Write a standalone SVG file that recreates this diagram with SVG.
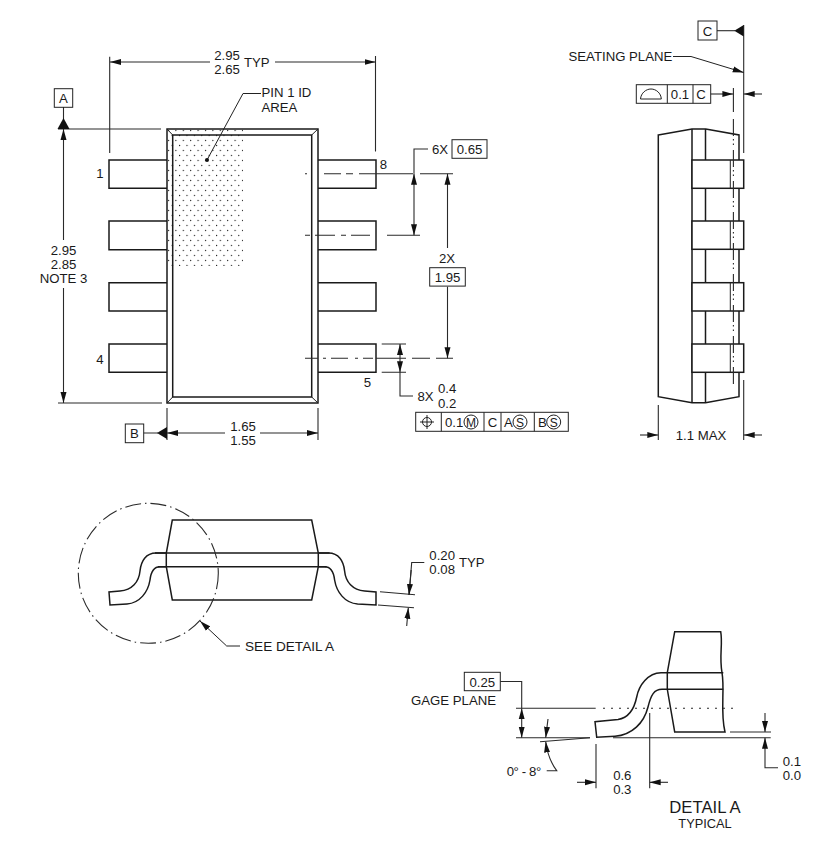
<svg xmlns="http://www.w3.org/2000/svg" width="817" height="850" viewBox="0 0 817 850">
<style>
text{font-family:"Liberation Sans",Arial,sans-serif;font-size:13.2px;fill:#1a1a1a}
.m{text-anchor:middle}
.o{fill:none;stroke:#1a1a1a;stroke-width:1.5;stroke-linejoin:miter}
.b{fill:#fff;stroke:#1a1a1a;stroke-width:1.5}
.f{fill:none;stroke:#222;stroke-width:1}
.d{fill:none;stroke:#2a2a2a;stroke-width:1.1}
.a{marker-end:url(#arr)}
.s{marker-start:url(#arr)}
.cl{fill:none;stroke:#2a2a2a;stroke-width:1.1}
.t{fill:#111;stroke:none}
</style>
<defs>
<marker id="arr" viewBox="0 0 11 7" refX="11" refY="3.5" markerWidth="11" markerHeight="7" markerUnits="userSpaceOnUse" orient="auto-start-reverse">
<path d="M0 0.5L11 3.5L0 6.5Z" fill="#111"/>
</marker>
<pattern id="dots" x="167" y="129" width="7.4" height="10" patternUnits="userSpaceOnUse">
<circle cx="1.5" cy="1.5" r="0.65" fill="#222"/>
<circle cx="5.2" cy="6.5" r="0.65" fill="#222"/>
</pattern>
</defs>

<g id="top-view">
<rect x="167" y="129" width="76" height="137" fill="url(#dots)"/>
<g id="pins-left">
<path class="o" d="M167 160H109V188.3H167M167 221H109V249.7H167M167 282.7H109V311H167M167 344H109V372.3H167"/>
</g>
<g id="pins-right">
<path class="o" d="M318 160H376V188.3H318M318 221H376V249.7H318M318 282.7H376V311H318M318 344H376V372.3H318"/>
</g>
<g id="body">
<rect class="o" x="167" y="129" width="151" height="274"/>
<rect class="o" x="172.7" y="135" width="139" height="262"/>
<path class="f" d="M167 129L172.7 135M318 129L311.7 135M167 403L172.7 397M318 403L311.7 397"/>
</g>
<text class="m" x="100" y="178">1</text>
<text class="m" x="100" y="364">4</text>
<text class="m" x="383.5" y="169">8</text>
<text class="m" x="367.5" y="386.5">5</text>
</g>

<g id="side-view">
<path class="o" d="M658.3 135L692 129H705.7L739 135V396.7L705.5 402.7H692L658.3 396.7Z"/>
<path class="o" d="M692 129V403M705.5 129V403"/>
<g id="side-pins">
<rect class="b" x="692" y="160" width="51.7" height="28.3"/>
<rect class="b" x="692" y="221" width="51.7" height="28.3"/>
<rect class="b" x="692" y="282.7" width="51.7" height="28.3"/>
<rect class="b" x="692" y="344" width="51.7" height="28.3"/>
<path class="f" d="M730.3 160V188.3M730.3 221V249.3M730.3 282.7V311M730.3 344V372.3"/>
</g>
</g>

<g id="lead-view">
<path class="o" d="M172.3 520H311.7L318.3 553V566.7L311.7 600H172.3L166.3 566.7V553Z"/>
<path class="o" d="M155 553H329.6M158 566.7H326.6"/>
<path class="o" d="M166 553H156C146 553 141 561 140 571C139 582 132 590 120 591L109 592L110 605L127 604C140 603 148 592 150 580C151 571 154 566.7 160 566.7H166"/>
<path class="o" d="M318.6 553H328.6C338.6 553 343.6 561 344.6 571C345.6 582 352.6 590 364.6 591L376 592V605L357.6 604C344.6 603 336.6 592 334.6 580C333.6 571 330.6 566.7 324.6 566.7H318.6"/>
</g>

<g id="detail-a">
<path class="o" d="M667.3 672.7L674.7 631.7H720.7C723 645 719 655 722 672.7C725 690 720 712 725 732H674.7L667.3 689.3Z"/>
<path class="o" d="M667.3 672.7H723.3M667.3 689.3H723.3"/>
<path class="o" d="M667.3 672.7H661C648 673 639 685 636.7 697C634 710 628 718 618 719.5L595 721.7L596.7 737.3L615 736.3C632 735 644 723 648 707C651 695 654 689.3 662 689.3H667.3"/>
</g>

<g id="connectors">
<!-- top width -->
<path class="d" d="M109.7 56.7V153M375.5 56V151.5"/>
<path class="d s" d="M110 62H210"/>
<path class="d a" d="M275 62H375.5"/>
<!-- pin id -->
<path class="f" d="M261 93.5H243L207 160"/>
<circle class="t" cx="207" cy="160" r="2"/>
<!-- datum A -->
<path class="d" d="M63.5 107V120M58 129H161M58 403H162"/>
<path class="t" d="M63.5 118L69.5 129H57.5Z"/>
<path class="d s" d="M63.5 129V240"/>
<path class="d a" d="M63.5 288V403"/>
<!-- datum B -->
<path class="d" d="M143.7 433H158M167 408V440M318 408V440"/>
<path class="t" d="M157 433L167 427V439Z"/>
<path class="d s" d="M167 433H225"/>
<path class="d a" d="M260 433H318"/>
<!-- centerlines -->
<path class="cl" d="M305 173.7H307M324 173.7H341M346 173.7H353M359 173.7H413M420 173.7H453"/>
<path class="cl" d="M305 235.3H310M315 235.3H335M341 235.3H346M351 235.3H370M387 235.3H420"/>
<path class="cl" d="M305 358.3H318M323 358.3H326M331 358.3H348M355 358.3H358M363 358.3H373M376 358.3H406M412 358.3H430M436 358.3H453"/>
<!-- 6X -->
<path class="d" d="M428 149H414V173.7"/>
<path class="d s" d="M414 173.7V205"/>
<path class="d a" d="M414 205V235.3"/>
<!-- 2X -->
<path class="d s" d="M447.5 173.7V248"/>
<path class="d a" d="M447.5 286.7V358.3"/>
<!-- 8X -->
<path class="d" d="M381.7 344H406M381.7 372.3H406M400 372.3V396H413"/>
<path class="d s" d="M400 344V358"/>
<path class="d a" d="M400 358V372.3"/>
<!-- seating -->
<path class="d" d="M743.7 25V153M743.7 380V440M658.3 405V440"/>
<path class="d" d="M717 30.7H735"/>
<path class="t" d="M734.3 30.7L743.7 25V36.4Z"/>
<path class="f a" d="M673 56.5H691L743.7 72.5"/>
<path class="cl" d="M733.4 88V112"/>
<path class="cl" d="M733.4 119V384" stroke-dasharray="17 3 1.5 3 1.5 5"/>
<path class="d a" d="M710.7 94H733.4"/>
<path class="d a" d="M762 94H743.7"/>
<path class="d a" d="M640 435H658.3"/>
<path class="d a" d="M762 435H743.7"/>
<!-- lead view -->
<circle class="cl" cx="148.3" cy="573.3" r="70" stroke-dasharray="16 4 1.5 4"/>
<path class="f a" d="M240 646H226.7L200 621"/>
<path class="d" d="M424.3 562.5H411.7L409 595"/>
<path class="d" d="M380 591.7L415 594.7M378 605L414 607.7"/>
<path class="d a" d="M411.2 570L409 595"/>
<path class="d a" d="M406.7 626L408.3 607.7"/>
<!-- detail a -->
<path class="d" d="M500.3 681.5H521.7V708.3"/>
<path class="d s" d="M521.7 708.3V723"/>
<path class="d a" d="M521.7 723V737.7"/>
<path class="d" d="M516 708.3H595.7M516 737.7H590M613 737.7H770.7M730 732H771"/>
<path class="cl" d="M603 708.3H735" stroke-dasharray="2 6"/>
<path class="d" d="M540 741.7L590 737.7"/>
<path class="d a" d="M548 719L545.7 737.7"/>
<path class="d s" d="M545.7 741.5C547 752 551 763 556.7 770.7H546.7"/>
<path class="d a" d="M765 713V732"/>
<path class="d s" d="M765 737.7V767.7H778"/>
<path class="d" d="M596 744V788.3M649.7 713V788.3"/>
<path class="d a" d="M577 782.3H596"/>
<path class="d a" d="M668 782.3H649.7"/>
</g>

<g id="datum-a"><rect class="f" x="54.3" y="88.7" width="18.4" height="18.6"/><text class="m" x="63.5" y="103">A</text></g>
<g id="datum-b"><rect class="f" x="125.3" y="424" width="18.4" height="18.7"/><text class="m" x="134.5" y="438">B</text></g>
<g id="datum-c"><rect class="f" x="698" y="21" width="19" height="19"/><text class="m" x="707.5" y="35.5">C</text></g>

<g id="labels">
<text class="m" x="227" y="60">2.95</text>
<text class="m" x="227" y="74">2.65</text>
<text x="244" y="67">TYP</text>
<text x="261.5" y="97">PIN 1 ID</text>
<text x="261.5" y="111.5">AREA</text>
<text class="m" x="63.5" y="255">2.95</text>
<text class="m" x="63.5" y="269">2.85</text>
<text class="m" x="63.5" y="283">NOTE 3</text>
<text class="m" x="243" y="431">1.65</text>
<text class="m" x="243" y="445">1.55</text>
<text x="432" y="154">6X</text>
<text class="m" x="447" y="262.5">2X</text>
<text x="417.5" y="400.5">8X</text>
<text x="438" y="393">0.4</text>
<text x="438" y="407.5">0.2</text>
<text x="568.5" y="60.7">SEATING PLANE</text>
<text class="m" x="701" y="440">1.1 MAX</text>
<text x="429.3" y="560">0.20</text>
<text x="429.3" y="574.3">0.08</text>
<text x="459" y="566.5">TYP</text>
<text x="245" y="650.7" style="font-size:13.6px">SEE DETAIL A</text>
<text x="411" y="704.5">GAGE PLANE</text>
<text x="506.7" y="775.5" style="letter-spacing:-0.4px">0° - 8°</text>
<text x="782.7" y="765.5">0.1</text>
<text x="782.7" y="780">0.0</text>
<text class="m" x="622.3" y="780">0.6</text>
<text class="m" x="622.3" y="794">0.3</text>
<text class="m" x="705" y="813.3" style="font-size:16.7px">DETAIL A</text>
<text class="m" x="705" y="828" style="font-size:12.8px">TYPICAL</text>
</g>

<g id="box-065"><rect class="f" x="452" y="139.7" width="35" height="18.6"/><text class="m" x="469.5" y="154">0.65</text></g>
<g id="box-195"><rect class="f" x="429.7" y="267.7" width="35.6" height="18.4"/><text class="m" x="447.5" y="282">1.95</text></g>
<g id="box-025"><rect class="f" x="464.3" y="672.3" width="36" height="18.4"/><text class="m" x="482.3" y="686.5">0.25</text></g>

<g id="fcf-profile">
<rect class="f" x="636.3" y="84.7" width="74.4" height="18.6"/>
<path class="f" d="M667.3 84.7V103.3M693 84.7V103.3"/>
<path class="f" d="M640.5 99H661.3C661 93 656 89 651 89C646 89 641 93 640.5 99Z"/>
<text class="m" x="680" y="99">0.1</text>
<text class="m" x="701" y="99">C</text>
</g>
<g id="fcf-position">
<rect class="f" x="415.7" y="412.3" width="152.6" height="19"/>
<path class="f" d="M441.3 412.3V431.3M484 412.3V431.3M501 412.3V431.3M534.3 412.3V431.3"/>
<circle class="f" cx="427" cy="422" r="4.5"/>
<path class="f" d="M420 422H434M427 415V429"/>
<text x="445" y="427">0.1</text>
<circle class="f" cx="471" cy="422" r="7"/><text class="m" x="471" y="426.5" style="font-size:12px">M</text>
<text class="m" x="492.5" y="427">C</text>
<text x="504" y="427">A</text>
<circle class="f" cx="520" cy="422" r="7"/><text class="m" x="520" y="426.5" style="font-size:12px">S</text>
<text x="538" y="427">B</text>
<circle class="f" cx="553.7" cy="422" r="7"/><text class="m" x="553.7" y="426.5" style="font-size:12px">S</text>
</g>
</svg>
